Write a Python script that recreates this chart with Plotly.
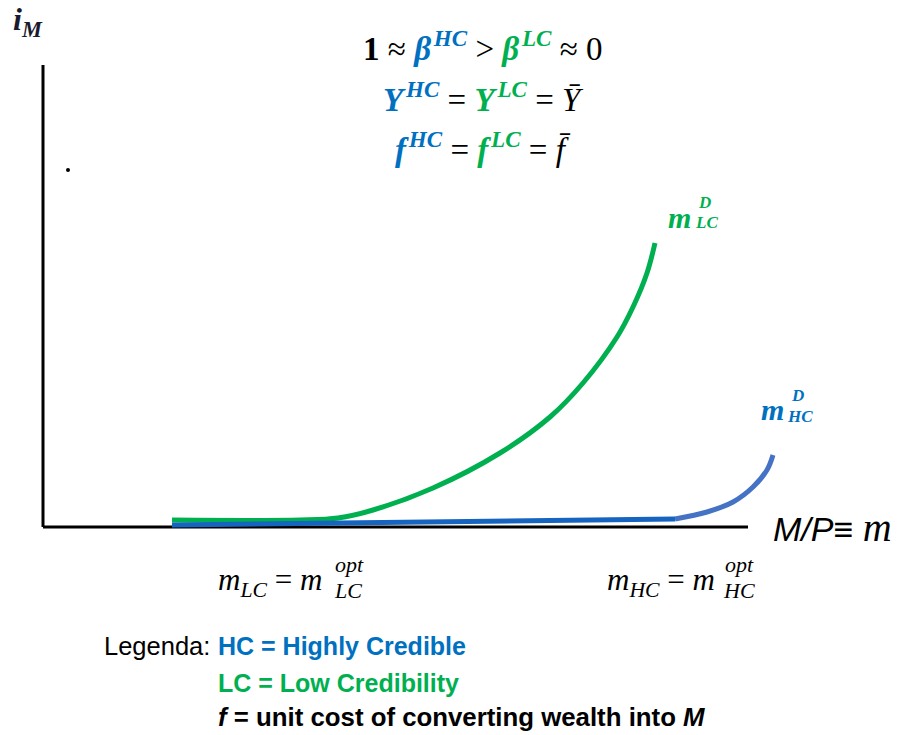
"""
Money demand under high vs low credibility (sketch diagram).
"""

import plotly.graph_objects as go

W, H = 917, 735
X0, Y0, S = 43, 527, 10  # pixel origin of the axes and pixels per unit

# Low-credibility money demand curve (m, i)
lc_m = [12.9, 25.7, 29.5, 33.0, 39.0, 45.7, 50.7, 54.0, 57.4, 59.0, 60.4, 61.2]
lc_i = [0.7, 0.7, 0.9, 1.7, 3.9, 7.4, 11.0, 14.4, 19.0, 22.0, 25.4, 28.4]

# High-credibility money demand: long flat part, then a short rise
hc_flat_m = [12.9, 63.2]
hc_flat_i = [0.2, 0.8]
hc_rise_m = [63.2, 66.4, 69.0, 71.0, 72.4, 73.0]
hc_rise_i = [0.8, 1.5, 2.5, 4.0, 5.7, 7.2]

# axes extents
x_axis_end = 70.5
y_axis_top = 46.2
dot_m, dot_i = [2.5], [35.7]

GREEN = "#00B050"
BLUE = "#0070C0"
BLUE2 = "#4472C4"
SERIF = "Liberation Serif"
SANS = "Liberation Sans"


def px(x, y):
    return dict(x=x / W, y=1 - y / H, xref="paper", yref="paper")


fig = go.Figure()
fig.add_trace(go.Scatter(x=[0, x_axis_end], y=[0, 0], mode="lines",
                         line=dict(color="black", width=3)))
fig.add_trace(go.Scatter(x=[0, 0], y=[0, y_axis_top], mode="lines",
                         line=dict(color="black", width=3)))
fig.add_trace(go.Scatter(x=lc_m, y=lc_i, mode="lines",
                         line=dict(color=GREEN, width=5, shape="spline")))
fig.add_trace(go.Scatter(x=hc_flat_m, y=hc_flat_i, mode="lines",
                         line=dict(color="#1565C0", width=5)))
fig.add_trace(go.Scatter(x=hc_rise_m, y=hc_rise_i, mode="lines",
                         line=dict(color=BLUE2, width=5, shape="spline")))
fig.add_trace(go.Scatter(x=dot_m, y=dot_i, mode="markers",
                         marker=dict(color="black", size=4)))


def note(text, x, y, size=26, color="black", family=SERIF, anchor="left", yanchor="middle"):
    fig.add_annotation(text=text, showarrow=False, xanchor=anchor, yanchor=yanchor,
                       borderpad=0,
                       font=dict(family=family, size=size, color=color), **px(x, y))


def c(col, s):
    return f"<span style='color:{col}'>{s}</span>"


def bi(letter, sup, col):
    # bold italic letter with a bold italic superscript
    return c(col, f"<b><i>{letter}</i></b>\u200a<sup><b><i>{sup}</i></b></sup>")


# axis labels
note("<b><i>i</i></b><sub><b><i>M</i></b></sub>", 12, 22, size=32, color="#1a1a2e")
note("<i>M/P</i>≡ <span style='font-family:Liberation Serif;font-size:40px'><i>m</i></span>",
     772, 527, size=34, family=SANS)

# equations at the top
note("<b>1</b> ≈ " + bi("β", "HC", BLUE) + " > " + bi("β", "LC", GREEN) + " ≈ 0",
     483, 46, size=33, anchor="center")
note(bi("Y", "HC", BLUE) + " = " + bi("Y", "LC", GREEN) + " = <i>Y\u0304</i>",
     483, 97, size=33, anchor="center")
note(bi("f", "HC", BLUE) + " = " + bi("f", "LC", GREEN) + " = <i>f\u0304</i>",
     483, 147, size=33, anchor="center")

# curve labels
note("<b><i>m</i></b>", 667, 217, size=30, color=GREEN)
note("<b><i>D</i></b>", 697, 202, size=17, color=GREEN)
note("<b><i>LC</i></b>", 694, 223, size=17, color=GREEN)
note("<b><i>m</i></b>", 760, 410, size=30, color=BLUE)
note("<b><i>D</i></b>", 790, 395, size=17, color=BLUE)
note("<b><i>HC</i></b>", 786, 416, size=17, color=BLUE)

# optimal quantities below the axis
note("<i>m</i><sub><i>LC</i></sub> = <i>m</i>", 217, 582, size=31)
note("<i>opt</i>", 334, 564, size=22)
note("<i>LC</i>", 333, 590, size=22)
note("<i>m</i><sub><i>HC</i></sub> = <i>m</i>", 606, 582, size=31)
note("<i>opt</i>", 724, 564, size=22)
note("<i>HC</i>", 722, 590, size=22)

# legend text
note("Legenda:", 103, 646, size=25.5, family=SANS)
note("<b>HC = Highly Credible</b>", 217, 646, size=25, color=BLUE, family=SANS)
note("<b>LC = Low Credibility</b>", 217, 683, size=25, color=GREEN, family=SANS)
note("<b><i>f</i> = unit cost of converting wealth into <i>M</i></b>", 217, 717,
     size=25.8, family=SANS)

fig.update_layout(
    width=W, height=H,
    margin=dict(l=0, r=0, t=0, b=0),
    paper_bgcolor="white", plot_bgcolor="white",
    showlegend=False,
    xaxis=dict(range=[-X0 / S, (W - X0) / S], visible=False, fixedrange=True),
    yaxis=dict(range=[(Y0 - H) / S, Y0 / S], visible=False, fixedrange=True),
)
fig.write_html("out.html", config={"displayModeBar": False},
               post_script="document.body.style.margin = '0';")
